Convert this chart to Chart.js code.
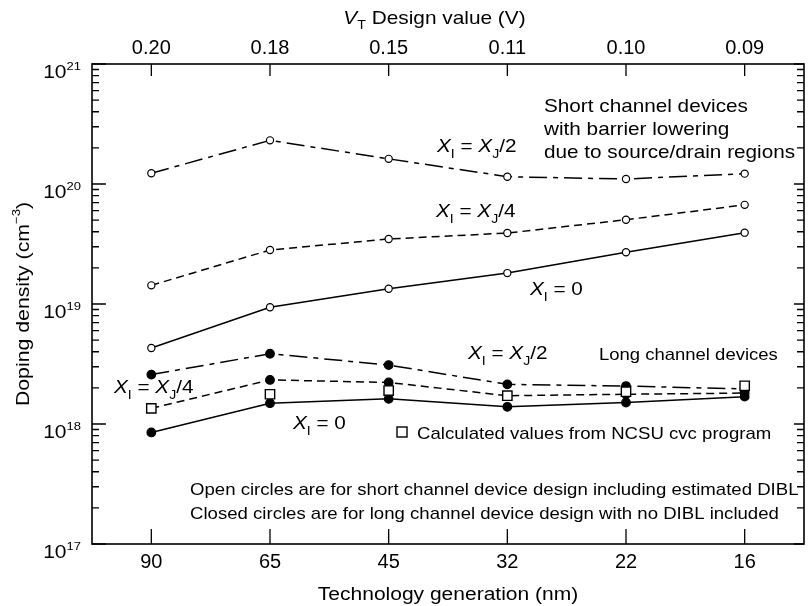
<!DOCTYPE html>
<html><head><meta charset="utf-8">
<script src="https://cdn.jsdelivr.net/npm/chart.js@4.4.1/dist/chart.umd.min.js"></script>
<style>html,body{margin:0;padding:0;background:#fff;}canvas{display:block;}</style>
</head><body>
<canvas id="c" width="812" height="606"></canvas>
<script>
// ---- data ----
const technologyNodes = ['90', '65', '45', '32', '22', '16'];
const vtDesignValues = ['0.20', '0.18', '0.15', '0.11', '0.10', '0.09'];
const yDecadeExponents = [17, 18, 19, 20, 21];
const minorMultipliers = [2, 3, 4, 5, 6, 7, 8, 9];

// short channel devices (open circles)
const shortHalf    = [1.23e20, 2.31e20, 1.62e20, 1.15e20, 1.10e20, 1.22e20];
const shortQuarter = [1.43e19, 2.82e19, 3.48e19, 3.90e19, 5.04e19, 6.70e19];
const shortZero    = [4.3e18, 9.4e18, 1.34e19, 1.81e19, 2.70e19, 3.93e19];
// long channel devices (closed circles)
const longHalf     = [2.58e18, 3.85e18, 3.10e18, 2.14e18, 2.07e18, 1.96e18];
const longQuarter  = [1.35e18, 2.33e18, 2.22e18, 1.72e18, 1.77e18, 1.81e18];
const longZero     = [8.5e17, 1.49e18, 1.62e18, 1.39e18, 1.51e18, 1.69e18];
// NCSU cvc program (squares)
const ncsuValues   = [1.35e18, 1.77e18, 1.90e18, 1.72e18, 1.86e18, 2.08e18];
const longQuarterMarkerShown = [false, true, true, false, true, true];

// ---- text ----
const shortBlockLines = ['Short channel devices', 'with barrier lowering', 'due to source/drain regions'];
const longBlockText = 'Long channel devices';
const ncsuText = 'Calculated values from NCSU cvc program';
const noteLines = ['Open circles are for short channel device design including estimated DIBL',
                   'Closed circles are for long channel device design with no DIBL included'];

const FONT = '"Liberation Sans", Arial, Helvetica, sans-serif';
const SX = 1.12;

function segFont(g, size) {
  const s = (g.sub || g.sup) ? size * (g.scale || 0.68) : size;
  return (g.italic ? 'italic ' : '') + s.toFixed(2) + 'px ' + FONT;
}
function richWidth(ctx, segs, size) {
  let w = 0;
  for (const g of segs) { ctx.font = segFont(g, size); w += ctx.measureText(g.t).width; }
  return w;
}
function drawRich(ctx, segs, x, y, size, align, rot) {
  ctx.save();
  ctx.translate(x, y);
  if (rot) ctx.rotate(rot);
  ctx.scale(SX, 1);
  const w = richWidth(ctx, segs, size);
  let cx = align === 'center' ? -w / 2 : align === 'right' ? -w : 0;
  ctx.textBaseline = 'alphabetic';
  ctx.textAlign = 'left';
  ctx.fillStyle = '#000';
  for (const g of segs) {
    ctx.font = segFont(g, size);
    let dy = g.sub ? size * 0.3 : g.sup ? -size * 0.45 : 0;
    if (g.dy !== undefined) dy = g.dy;
    ctx.fillText(g.t, cx, dy);
    cx += ctx.measureText(g.t).width;
  }
  ctx.restore();
}
function xLabel(rhs) {
  const segs = [{t: 'X', italic: true}, {t: 'I', sub: true}, {t: ' = '}];
  if (rhs === '0') segs.push({t: '0'});
  else segs.push({t: 'X', italic: true}, {t: 'J', sub: true}, {t: rhs});
  return segs;
}

const decorPlugin = {
  id: 'decor',
  beforeDatasetsDraw(chart) {
    const ctx = chart.ctx, a = chart.chartArea;
    const xs = chart.scales.x, xt = chart.scales.x2, ys = chart.scales.y;
    ctx.save();
    ctx.strokeStyle = '#000';
    ctx.lineWidth = 1.6;
    ctx.strokeRect(a.left, a.top, a.right - a.left, a.bottom - a.top);
    ctx.lineWidth = 1.3;
    ctx.beginPath();
    technologyNodes.forEach((_, i) => {
      const px = xs.getPixelForValue(i);
      ctx.moveTo(px, a.bottom); ctx.lineTo(px, a.bottom - 15);
      const pt = xt.getPixelForValue(i);
      ctx.moveTo(pt, a.top); ctx.lineTo(pt, a.top + 12);
    });
    yDecadeExponents.forEach(e => {
      const py = ys.getPixelForValue(Math.pow(10, e));
      ctx.moveTo(a.left, py); ctx.lineTo(a.left + 14, py);
      ctx.moveTo(a.right, py); ctx.lineTo(a.right - 10, py);
      if (e < 21) minorMultipliers.forEach(m => {
        const pm = ys.getPixelForValue(m * Math.pow(10, e));
        ctx.moveTo(a.left, pm); ctx.lineTo(a.left + 7, pm);
        ctx.moveTo(a.right, pm); ctx.lineTo(a.right - 7, pm);
      });
    });
    ctx.stroke();
    ctx.restore();
  },
  afterDraw(chart) {
    const ctx = chart.ctx, a = chart.chartArea, ys = chart.scales.y;
    // y tick labels
    yDecadeExponents.forEach(e => {
      const py = ys.getPixelForValue(Math.pow(10, e));
      drawRich(ctx, [{t: '10'}, {t: String(e), sup: true, scale: 0.62, dy: -8}], 81, py + 14, 18.75, 'right');
    });
    // axis titles
    drawRich(ctx, [{t: 'Technology generation (nm)'}], (a.left + a.right) / 2, 600, 18.75, 'center');
    drawRich(ctx, [{t: 'V', italic: true}, {t: 'T', sub: true}, {t: ' Design value (V)'}], 434.5, 23.5, 18.6, 'center');
    drawRich(ctx, [{t: 'Doping density (cm'}, {t: '\u22123', sup: true, scale: 0.62}, {t: ')'}], 29, (a.top + a.bottom) / 2, 19, 'center', -Math.PI / 2);
    // short channel annotations
    shortBlockLines.forEach((s, i) => drawRich(ctx, [{t: s}], 544, 112 + i * 23, 18.5, 'left'));
    drawRich(ctx, xLabel('/2'), 437, 152, 18.5, 'left');
    drawRich(ctx, xLabel('/4'), 436, 217, 18.5, 'left');
    drawRich(ctx, xLabel('0'), 530, 295, 18.5, 'left');
    // long channel annotations
    drawRich(ctx, xLabel('/2'), 468, 359, 18.5, 'left');
    drawRich(ctx, [{t: longBlockText}], 599, 360, 16.5, 'left');
    drawRich(ctx, xLabel('/4'), 114, 393, 18.5, 'left');
    drawRich(ctx, xLabel('0'), 293, 429, 18.5, 'left');
    // NCSU legend
    ctx.save();
    ctx.strokeStyle = '#000'; ctx.lineWidth = 1.4; ctx.fillStyle = '#fff';
    ctx.fillRect(397, 427, 10, 10); ctx.strokeRect(397, 427, 10, 10);
    ctx.restore();
    drawRich(ctx, [{t: ncsuText}], 417, 439, 16.6, 'left');
    noteLines.forEach((s, i) => drawRich(ctx, [{t: s}], 190, 495 + i * 23.5, 16.6, 'left'));
  }
};

const dashDot = [18, 6, 5, 6];
const dashed = [8, 5];
function ds(data, dash, filled, extra) {
  return Object.assign({
    data: data,
    borderColor: '#000',
    borderWidth: 1.5,
    borderDash: dash,
    pointRadius: filled ? 4.3 : 3.6,
    pointBorderWidth: 1.2,
    pointBorderColor: '#000',
    pointBackgroundColor: filled ? '#000' : '#fff',
    pointStyle: 'circle',
    tension: 0,
    fill: false
  }, extra || {});
}

const tickFont = {family: FONT, size: 20};
new Chart(document.getElementById('c'), {
  type: 'line',
  data: {
    labels: technologyNodes,
    datasets: [
      {data: ncsuValues, showLine: false, pointStyle: 'rect', pointRadius: 6.6, pointBorderWidth: 1.4,
       pointBorderColor: '#000', pointBackgroundColor: '#fff', order: -1},
      ds(shortHalf, dashDot, false),
      ds(shortQuarter, dashed, false),
      ds(shortZero, [], false),
      ds(longHalf, dashDot, true),
      ds(longQuarter, dashed, true, {pointRadius: longQuarterMarkerShown.map(s => s ? 4.3 : 0)}),
      ds(longZero, [], true)
    ]
  },
  options: {
    responsive: false,
    animation: false,
    devicePixelRatio: 1,
    layout: {padding: {left: 0, right: 1, top: 0, bottom: 0}},
    plugins: {legend: {display: false}, tooltip: {enabled: false}},
    scales: {
      x: {type: 'category', position: 'bottom', offset: true,
          grid: {display: false, drawTicks: false}, border: {display: false},
          ticks: {font: tickFont, color: '#000', padding: 6, maxRotation: 0, autoSkip: false},
          afterFit: s => { s.height = 62; }},
      x2: {type: 'category', position: 'top', offset: true, labels: vtDesignValues,
           grid: {display: false, drawTicks: false}, border: {display: false},
           ticks: {font: tickFont, color: '#000', padding: 4, maxRotation: 0, autoSkip: false},
           afterFit: s => { s.height = 64; }},
      y: {type: 'logarithmic', min: 1e17, max: 1e21,
          grid: {display: false, drawTicks: false}, border: {display: false},
          ticks: {display: false},
          afterFit: s => { s.width = 92; }}
    }
  },
  plugins: [decorPlugin]
});
</script>
</body></html>
